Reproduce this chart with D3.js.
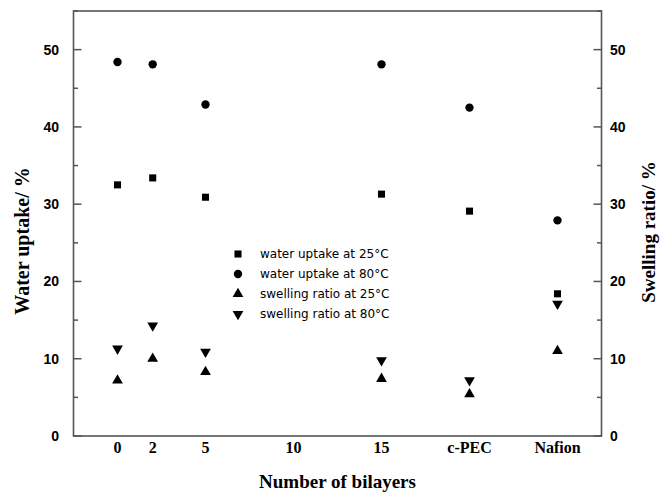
<!DOCTYPE html>
<html>
<head>
<meta charset="utf-8">
<script src="https://cdn.jsdelivr.net/npm/d3@7"></script>
<style>
  body { margin: 0; background: #fff; }
  .tick-num { font-family: "Liberation Sans", Arial, sans-serif; font-weight: bold; font-size: 14px; }
  .xlab { font-family: "Liberation Serif", "Times New Roman", serif; font-weight: bold; font-size: 16px; }
  .title { font-family: "Liberation Serif", "Times New Roman", serif; font-weight: bold; font-size: 19px; }
  .legend { font-family: "DejaVu Sans", Verdana, sans-serif; font-size: 12px; }
</style>
</head>
<body>
<svg width="661" height="494"></svg>
<script>
// x positions (numeric), c-PEC and Nafion are put after 15
var xPos = [0, 2, 5, 15, 20, 25];
var xTickVals = [0, 2, 5, 10, 15, 20, 25];
var xTickLabels = ["0", "2", "5", "10", "15", "c-PEC", "Nafion"];

var uptake25 = [32.5, 33.4, 30.9, 31.3, 29.1, 18.4];
var uptake80 = [48.4, 48.1, 42.9, 48.1, 42.5, 27.9];
var swell25 = [7.2, 10.0, 8.3, 7.4, 5.4, 11.0];
var swell80 = [11.3, 14.3, 10.9, 9.8, 7.2, 17.1];

var seriesNames = ["water uptake at 25\u00B0C", "water uptake at 80\u00B0C",
  "swelling ratio at 25\u00B0C", "swelling ratio at 80\u00B0C"];

var svg = d3.select("svg");
// note: "top" is taken by window.top, so use plot* names
var plotL = 73.5, plotR = 601.5, plotT = 11, plotB = 436;

var x = d3.scaleLinear().domain([-2.5, 27.5]).range([plotL, plotR]);
var y = d3.scaleLinear().domain([0, 55]).range([plotB, plotT]);

// frame
svg.append("rect")
  .attr("x", plotL).attr("y", plotT)
  .attr("width", plotR - plotL).attr("height", plotB - plotT)
  .attr("fill", "none").attr("stroke", "#555").attr("stroke-width", 1.6);

// y ticks (inward) on both sides
var yMajor = d3.range(0, 51, 10);
var yMinor = d3.range(5, 56, 10);
[plotL, plotR].forEach(function(ax) {
  var dir = ax === plotL ? 1 : -1;
  svg.selectAll(null).data(yMajor).enter().append("line")
    .attr("x1", ax).attr("x2", ax + dir * 8)
    .attr("y1", function(d) { return y(d); }).attr("y2", function(d) { return y(d); })
    .attr("stroke", "#555").attr("stroke-width", 1.5);
  svg.selectAll(null).data(yMinor).enter().append("line")
    .attr("x1", ax).attr("x2", ax + dir * 4.5)
    .attr("y1", function(d) { return y(d); }).attr("y2", function(d) { return y(d); })
    .attr("stroke", "#555").attr("stroke-width", 1.5);
});

svg.selectAll(null).data(yMajor).enter().append("text")
  .attr("class", "tick-num")
  .attr("x", 59).attr("y", function(d) { return y(d); })
  .attr("dy", "0.35em").attr("text-anchor", "end")
  .text(function(d) { return d; });

svg.selectAll(null).data(yMajor).enter().append("text")
  .attr("class", "tick-num")
  .attr("x", 610).attr("y", function(d) { return y(d); })
  .attr("dy", "0.35em").attr("text-anchor", "start")
  .text(function(d) { return d; });

// x tick labels
svg.selectAll(null).data(xTickVals).enter().append("text")
  .attr("class", "xlab")
  .attr("x", function(d) { return x(d); }).attr("y", 453)
  .attr("text-anchor", "middle")
  .text(function(d, i) { return xTickLabels[i]; });

// axis titles
svg.append("text").attr("class", "title")
  .attr("x", (plotL + plotR) / 2).attr("y", 488)
  .attr("text-anchor", "middle").text("Number of bilayers");

svg.append("text").attr("class", "title")
  .style("font-size", "20px")
  .attr("transform", "translate(29,241) rotate(-90)")
  .attr("text-anchor", "middle").text("Water uptake/ %");

svg.append("text").attr("class", "title")
  .attr("transform", "translate(655,232) rotate(-90)")
  .attr("text-anchor", "middle").text("Swelling ratio/ %");

// markers
var sym = [
  d3.symbol().type(d3.symbolSquare).size(50),
  d3.symbol().type(d3.symbolCircle).size(55),
  d3.symbol().type(d3.symbolTriangle).size(50),
  d3.symbol().type(d3.symbolTriangle).size(50)
];
var rot = [0, 0, 0, 180];
var allSeries = [uptake25, uptake80, swell25, swell80];

allSeries.forEach(function(vals, s) {
  svg.selectAll(null).data(vals).enter().append("path")
    .attr("d", sym[s])
    .attr("fill", "#000")
    .attr("transform", function(d, i) {
      return "translate(" + x(xPos[i]) + "," + y(d) + ") rotate(" + rot[s] + ")";
    });
});

// legend
var lg = svg.append("g").attr("transform", "translate(238,254)");
seriesNames.forEach(function(name, s) {
  var yy = s * 20;
  lg.append("path").attr("d", sym[s]).attr("fill", "#000")
    .attr("transform", "translate(0," + yy + ") rotate(" + rot[s] + ")");
  lg.append("text").attr("class", "legend")
    .attr("x", 22).attr("y", yy).attr("dy", "0.35em")
    .text(name);
});
</script>
</body>
</html>
